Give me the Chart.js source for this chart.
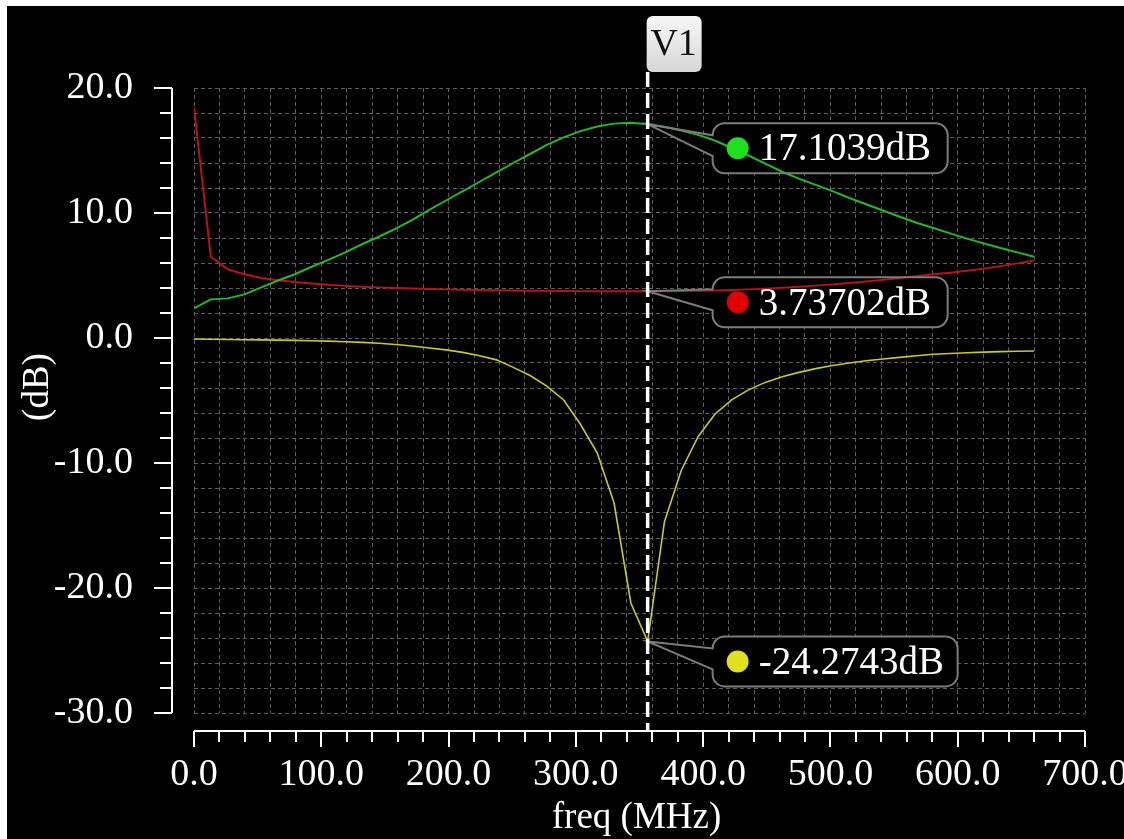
<!DOCTYPE html>
<html>
<head>
<meta charset="utf-8">
<script src="https://cdn.jsdelivr.net/npm/chart.js@4.4.0/dist/chart.umd.min.js"></script>
<style>
html, body { margin: 0; padding: 0; background: #fff; overflow: hidden; }
#wrap { position: absolute; left: 7px; top: 6px; width: 1117px; height: 833px; background: #000; }
</style>
</head>
<body>
<div id="wrap"><canvas id="plot"></canvas></div>
<script>
// sweep points (MHz)
var freqMHz = [0, 13.2, 26.4, 39.6, 52.8, 66, 79.2, 92.4, 105.6, 118.8,
	132, 145.2, 158.4, 171.6, 184.8, 198, 211.2, 224.4, 237.6, 250.8,
	264, 277.2, 290.4, 303.6, 316.8, 330, 343.2, 356.4, 369.6, 382.8,
	396, 409.2, 422.4, 435.6, 448.8, 462, 475.2, 488.4, 501.6, 514.8,
	528, 541.2, 554.4, 567.6, 580.8, 594, 607.2, 620.4, 633.6, 646.8, 660];

// green trace
var gainDb = [2.37, 3.09, 3.17, 3.49, 4.05, 4.6, 5.1, 5.7, 6.25, 6.85,
	7.5, 8.1, 8.75, 9.45, 10.25, 11.0, 11.75, 12.5, 13.25, 14.0,
	14.72, 15.45, 16.05, 16.55, 16.92, 17.15, 17.22, 17.1039, 16.9, 16.6,
	16.25, 15.8, 15.2, 14.6, 13.95, 13.3, 12.75, 12.25, 11.75, 11.2,
	10.7, 10.2, 9.7, 9.22, 8.8, 8.37, 7.95, 7.57, 7.2, 6.85, 6.5];

// red trace
var noiseDb = [18.46, 6.5, 5.5, 5.1, 4.8, 4.62, 4.48, 4.36, 4.26, 4.17,
	4.1, 4.05, 4.0, 3.96, 3.92, 3.89, 3.86, 3.84, 3.82, 3.8,
	3.78, 3.77, 3.76, 3.75, 3.745, 3.74, 3.737, 3.73702, 3.74, 3.75,
	3.77, 3.8, 3.84, 3.89, 3.95, 4.02, 4.1, 4.19, 4.29, 4.4,
	4.52, 4.65, 4.8, 4.95, 5.1, 5.22, 5.38, 5.55, 5.75, 5.97, 6.2];

// yellow trace
var returnDb = [-0.08, -0.1, -0.12, -0.14, -0.15, -0.17, -0.19, -0.22, -0.25, -0.3,
	-0.35, -0.42, -0.52, -0.64, -0.8, -0.95, -1.15, -1.42, -1.75, -2.35,
	-3.0, -3.85, -4.96, -6.9, -9.2, -13.2, -21.2, -24.2743, -14.7, -10.6,
	-7.9, -6.1, -4.95, -4.15, -3.55, -3.1, -2.75, -2.45, -2.2, -2.0,
	-1.82, -1.68, -1.55, -1.42, -1.3, -1.24, -1.18, -1.13, -1.09, -1.06, -1.04];

var xMin = 0, xMax = 700, xStep = 20;
var yMin = -30, yMax = 20, yStep = 2;

var cursorName = 'V1';
var cursorIndex = 27;
var markerValues = [17.1039, 3.73702, -24.2743];
var markerText = ['17.1039dB', '3.73702dB', '-24.2743dB'];

var serif = "'Liberation Serif', 'DejaVu Serif', serif";

function pts(ys) {
	var out = [];
	for (var i = 0; i < freqMHz.length; i++) out.push({x: freqMHz[i], y: ys[i]});
	return out;
}

function calloutPath(ctx, left, top, w, h, r, px, py) {
	var y1 = top + r, y2 = top + 33;
	ctx.beginPath();
	ctx.moveTo(left + r, top);
	ctx.lineTo(left + w - r, top);
	ctx.arcTo(left + w, top, left + w, top + r, r);
	ctx.lineTo(left + w, top + h - r);
	ctx.arcTo(left + w, top + h, left + w - r, top + h, r);
	ctx.lineTo(left + r, top + h);
	ctx.arcTo(left, top + h, left, top + h - r, r);
	ctx.lineTo(left, y2);
	ctx.lineTo(px, py);
	ctx.lineTo(left, y1);
	ctx.lineTo(left, top + r);
	ctx.arcTo(left, top, left + r, top, r);
	ctx.closePath();
}

// where each value box sits relative to its point
var boxes = [
	{dot: '#1ee01e', dy: -1, w: 235},
	{dot: '#e00000', dy: -14, w: 235},
	{dot: '#e0e020', dy: -5, w: 245}
];

function boxGeom(chart, i) {
	var xs = chart.scales.x, ys = chart.scales.y;
	var cx = xs.getPixelForValue(freqMHz[cursorIndex]);
	var py = ys.getPixelForValue(markerValues[i]);
	return {cx: cx, py: py, left: cx + 65, top: py + boxes[i].dy, w: boxes[i].w, h: 50};
}

var overlay = {
	id: 'overlay',
	beforeDatasetsDraw: function(chart) {
		var ctx = chart.ctx;
		ctx.save();
		for (var i = 0; i < markerValues.length; i++) {
			var g = boxGeom(chart, i);
			calloutPath(ctx, g.left, g.top, g.w, g.h, 12, g.cx, g.py);
			ctx.fillStyle = '#000';
			ctx.fill();
		}
		ctx.restore();
	},
	afterDatasetsDraw: function(chart) {
		var ctx = chart.ctx, xs = chart.scales.x, ys = chart.scales.y;
		var area = chart.chartArea;
		ctx.save();

		// axis spines, offset from the plot box
		ctx.strokeStyle = '#fff';
		ctx.lineWidth = 2;
		var sx = area.left - 22;
		ctx.beginPath();
		ctx.moveTo(sx, ys.getPixelForValue(yMax));
		ctx.lineTo(sx, ys.getPixelForValue(yMin));
		ys.ticks.forEach(function(t) {
			var p = Math.round(ys.getPixelForValue(t.value));
			var len = (t.value % 10 === 0) ? 18 : 12;
			ctx.moveTo(sx - len, p);
			ctx.lineTo(sx, p);
		});
		var sy = area.bottom + 18;
		ctx.moveTo(xs.getPixelForValue(xMin), sy);
		ctx.lineTo(xs.getPixelForValue(xMax), sy);
		xs.ticks.forEach(function(t) {
			var p = Math.round(xs.getPixelForValue(t.value));
			var len = (t.value % 100 === 0) ? 16 : 11;
			ctx.moveTo(p, sy);
			ctx.lineTo(p, sy + len);
		});
		ctx.stroke();

		// axis titles
		ctx.fillStyle = '#fff';
		ctx.font = '37px ' + serif;
		ctx.textAlign = 'center';
		ctx.textBaseline = 'alphabetic';
		ctx.fillText('freq (MHz)', (area.left + area.right) / 2 - 3, 822);
		ctx.save();
		ctx.translate(31, 381);
		ctx.rotate(-Math.PI / 2);
		ctx.textBaseline = 'middle';
		ctx.fillText('(dB)', 0, 0);
		ctx.restore();

		// value boxes
		for (var i = 0; i < markerValues.length; i++) {
			var g = boxGeom(chart, i);
			calloutPath(ctx, g.left, g.top, g.w, g.h, 12, g.cx, g.py);
			ctx.strokeStyle = '#7c7c7c';
			ctx.lineWidth = 2;
			ctx.stroke();
			ctx.fillStyle = boxes[i].dot;
			ctx.beginPath();
			ctx.arc(g.left + 25, g.top + 25, 11, 0, Math.PI * 2);
			ctx.fill();
			ctx.fillStyle = '#fff';
			ctx.font = '39px ' + serif;
			ctx.textAlign = 'left';
			ctx.textBaseline = 'middle';
			ctx.fillText(markerText[i], g.left + 46, g.top + 27);
		}

		// cursor
		var cx = xs.getPixelForValue(freqMHz[cursorIndex]);
		ctx.strokeStyle = '#fff';
		ctx.lineWidth = 3.5;
		ctx.setLineDash([15, 6]);
		ctx.beginPath();
		ctx.moveTo(cx, 66);
		ctx.lineTo(cx, sy);
		ctx.stroke();
		ctx.setLineDash([]);

		var grad = ctx.createLinearGradient(0, 10, 0, 66);
		grad.addColorStop(0, '#f7f7f7');
		grad.addColorStop(1, '#d6d6d6');
		ctx.fillStyle = grad;
		ctx.beginPath();
		ctx.roundRect(cx - 1, 10, 55, 56, 6);
		ctx.fill();
		ctx.fillStyle = '#111';
		ctx.font = '38px ' + serif;
		ctx.textAlign = 'center';
		ctx.textBaseline = 'middle';
		ctx.fillText(cursorName, cx + 26, 39);

		ctx.restore();
	}
};

var ctx = document.getElementById('plot');

var chart = new Chart(ctx, {
	type: 'line',
	data: {
		datasets: [
			{ data: pts(gainDb), borderColor: '#2cb52c', borderWidth: 2 },
			{ data: pts(noiseDb), borderColor: '#b3141c', borderWidth: 2 },
			{ data: pts(returnDb), borderColor: '#c8c832', borderWidth: 1.6 }
		]
	},
	options: {
		responsive: true,
		maintainAspectRatio: false,
		animation: false,
		parsing: false,
		elements: { point: { radius: 0 }, line: { tension: 0 } },
		layout: { padding: { top: 82, right: 39, left: 0, bottom: 0 } },
		plugins: { legend: { display: false }, tooltip: { enabled: false } },
		scales: {
			x: {
				type: 'linear',
				min: xMin, max: xMax,
				afterFit: function(s) { s.height = 126; s.paddingLeft = 0; s.paddingRight = 0; },
				border: { display: false, dash: [4, 3] },
				grid: { color: '#5c5c5c', lineWidth: 1, drawTicks: false },
				ticks: {
					stepSize: xStep, autoSkip: false, maxRotation: 0, padding: 39,
					color: '#fff', font: { family: serif, size: 38 },
					callback: function(v) { return v % 100 === 0 ? v.toFixed(1) : ''; }
				}
			},
			y: {
				min: yMin, max: yMax,
				afterFit: function(s) { s.width = 187; s.paddingTop = 0; s.paddingBottom = 0; },
				border: { display: false, dash: [4, 3] },
				grid: { color: '#5c5c5c', lineWidth: 1, drawTicks: false },
				ticks: {
					stepSize: yStep, autoSkip: false, padding: 61,
					color: '#fff', font: { family: serif, size: 38 },
					callback: function(v) { return v % 10 === 0 ? v.toFixed(1) : ''; }
				}
			}
		}
	},
	plugins: [overlay]
});
</script>
</body>
</html>
